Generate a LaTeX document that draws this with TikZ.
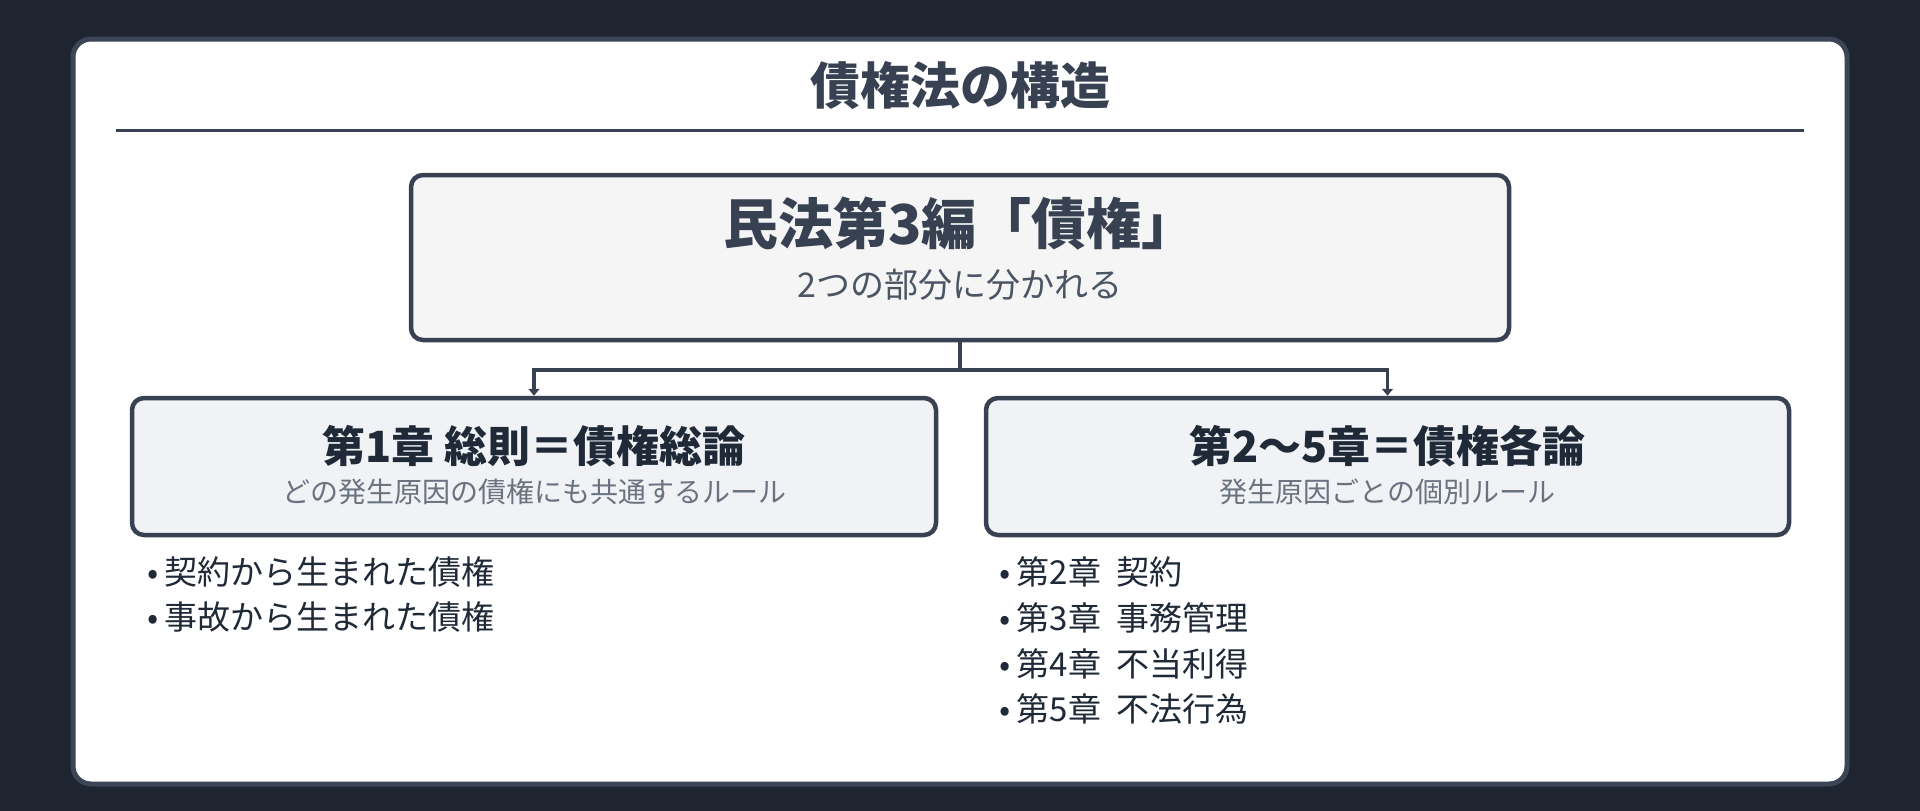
\documentclass[tikz,border=0pt]{standalone}
\usepackage{fontspec}
\setmainfont{Noto Sans CJK JP}
\usepackage{xcolor}
\usetikzlibrary{arrows.meta, calc}

\definecolor{bgdark}{HTML}{1E2530}
\definecolor{cardline}{HTML}{3B4555}
\definecolor{inkdark}{HTML}{1F2937}
\definecolor{inkmid}{HTML}{374151}
\definecolor{inkgray}{HTML}{4B5563}
\definecolor{inklight}{HTML}{6B7280}
\definecolor{topfill}{HTML}{F5F5F5}
\definecolor{partfill}{HTML}{F0F2F5}

\newcommand{\gap}{\hspace{0.45em}}
\newcommand{\dotgap}{\hspace{0.2em}}

\begin{document}
\begin{tikzpicture}[x=1pt, y=-1pt,
  box/.style={draw=inkmid, line width=4.5pt, rounded corners=12pt, inner sep=0pt},
  link/.style={draw=inkmid, line width=3.5pt, -{Triangle[length=7pt, width=11pt]}},
  item/.style={anchor=west, inner sep=0pt, text=inkdark, font=\fontsize{33}{40}\selectfont}]
\useasboundingbox (0,0) rectangle (1920,811);
\fill[bgdark] (0,0) rectangle (1920,811);
\draw[fill=white, draw=cardline, line width=5pt, rounded corners=18pt] (73,39) rectangle (1847,784);

\node(title)[text=inkmid, font=\fontsize{50}{60}\selectfont\bfseries] at (960,86) {債権法の構造};
\coordinate(ruleL) at (116,130);
\coordinate(ruleR) at (1804,130);
\draw[inkmid, line width=3pt] (ruleL) -- (ruleR);

\node(top)[box, fill=topfill, minimum width=1098pt, minimum height=165pt] at (960,257.5) {};
\node(topT)[text=inkmid, font=\fontsize{55}{66}\selectfont\bfseries] at (960,224) {民法第3編「債権」};
\node(topS)[text=inkgray, font=\fontsize{34}{41}\selectfont] at (960,285) {2つの部分に分かれる};

\node(gen)[box, fill=partfill, minimum width=804pt, minimum height=137pt] at (534,466.5) {};
\node(genT)[text=inkdark, font=\fontsize{43}{52}\selectfont\bfseries] at (534,446) {第1章 総則＝債権総論};
\node(genS)[text=inklight, font=\fontsize{28}{34}\selectfont] at (534,492) {どの発生原因の債権にも共通するルール};

\node(spec)[box, fill=partfill, minimum width=803pt, minimum height=137pt] at (1387.5,466.5) {};
\node(specT)[text=inkdark, font=\fontsize{43}{52}\selectfont\bfseries] at (1387.5,446) {第2〜5章＝債権各論};
\node(specS)[text=inklight, font=\fontsize{28}{34}\selectfont] at (1387.5,492) {発生原因ごとの個別ルール};

\coordinate(split) at (960,370);
\draw[link] (top.south) -- (split) -| (gen.north);
\draw[link] (top.south) -- (split) -| (spec.north);

\node(g1)[item] at (147,572) {•\dotgap 契約から生まれた債権};
\node(g2)[item] at (147,617) {•\dotgap 事故から生まれた債権};

\node(s2)[item] at (999,572) {•\dotgap 第2章\gap 契約};
\node(s3)[item] at (999,618) {•\dotgap 第3章\gap 事務管理};
\node(s4)[item] at (999,664) {•\dotgap 第4章\gap 不当利得};
\node(s5)[item] at (999,709) {•\dotgap 第5章\gap 不法行為};
\end{tikzpicture}
\end{document}
